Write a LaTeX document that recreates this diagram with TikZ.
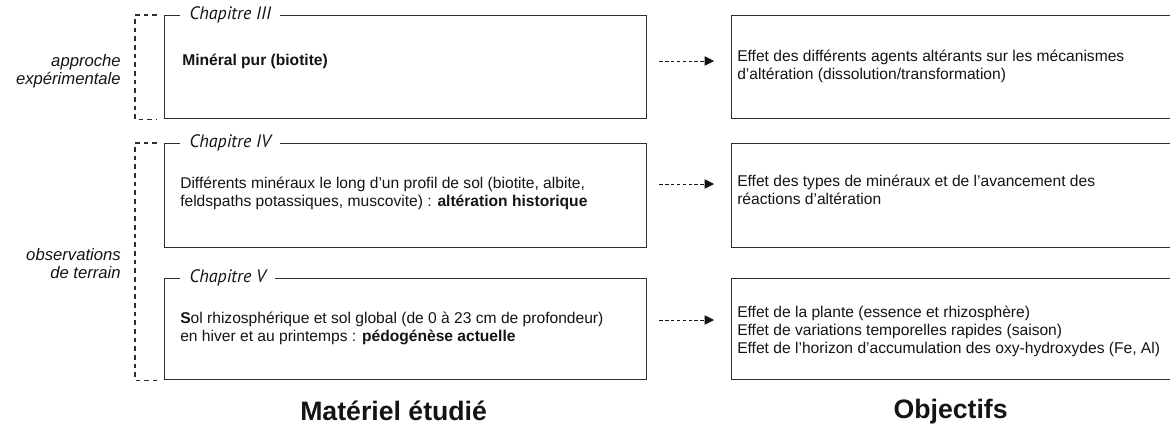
\documentclass[tikz,border=0pt]{standalone}
\usepackage{fontspec}
\setmainfont{Liberation Sans}
\newfontfamily\chapfont{PT Sans}
\usetikzlibrary{arrows.meta,calc,positioning}
\definecolor{dgink}{HTML}{141414}
\definecolor{dgframe}{HTML}{2E2E2E}

\begin{document}
\begin{tikzpicture}[x=0.75pt, y=-0.75pt, font=\fontsize{11.7}{13.5}\selectfont, text=dgink,
    matbox/.style={draw=dgframe, line width=0.95pt, rectangle, inner sep=0pt, anchor=north west, minimum width=361.5pt},
    objbox/.style={draw=dgframe, line width=0.95pt, rectangle, inner sep=0pt, anchor=north west, minimum width=330pt},
    chapter/.style={fill=white, inner xsep=7pt, inner ysep=1pt, anchor=west, font=\chapfont\itshape\fontsize{13.5}{15}\selectfont},
    body/.style={anchor=north west, inner sep=0pt, align=left},
    bracket/.style={draw=dgframe, line width=0.8pt, dash pattern=on 3.5pt off 3pt},
    link/.style={draw=dgink, line width=0.55pt, dash pattern=on 2.6pt off 1.8pt, -{Triangle[length=7pt, width=7pt]}},
    approach/.style={anchor=east, align=right, inner sep=0pt, font=\itshape\fontsize{12.5}{13.5}\selectfont},
    heading/.style={inner sep=0pt, font=\bfseries\fontsize{20}{24}\selectfont},
  ]
  \path[use as bounding box, clip] (0,0) rectangle (1170,430);

  % material studied (left column)
  \node[matbox, minimum height=77.25pt] (mat3) at (164,15) {};
  \node[matbox, minimum height=78pt] (mat4) at (164,143) {};
  \node[matbox, minimum height=75.75pt] (mat5) at (164,278) {};

  % objectives (right column, cut at the page edge)
  \node[objbox, minimum height=77.25pt] (obj3) at (731,15) {};
  \node[objbox, minimum height=78pt] (obj4) at (731,143) {};
  \node[objbox, minimum height=75.75pt] (obj5) at (731,278) {};

  % chapter titles over the top borders
  \foreach \n/\roman in {3/III, 4/IV, 5/V} {
    \node[chapter] (chap\n) at ($(mat\n.north west)+(16,0)$) {Chapitre \roman};
  }

  % box contents
  \node[body] (mat3txt) at ($(mat3.north west)+(18,39)$) {\textbf{Minéral pur (biotite)}};
  \node[body] (mat4txt) at ($(mat4.north west)+(16,34)$)
    {Différents minéraux le long d’un profil de sol (biotite, albite,\\
     feldspaths potassiques, muscovite) : \textbf{altération historique}};
  \node[body] (mat5txt) at ($(mat5.north west)+(16,34)$)
    {\textbf{S}ol rhizosphérique et sol global (de 0 à 23 cm de profondeur)\\
     en hiver et au printemps : \textbf{pédogénèse actuelle}};

  \node[body] (obj3txt) at ($(obj3.north west)+(6,35)$)
    {Effet des différents agents altérants sur les mécanismes\\
     d’altération (dissolution/transformation)};
  \node[body] (obj4txt) at ($(obj4.north west)+(6,32)$)
    {Effet des types de minéraux et de l’avancement des\\
     réactions d’altération};
  \node[body] (obj5txt) at ($(obj5.north west)+(6,28)$)
    {Effet de la plante (essence et rhizosphère)\\
     Effet de variations temporelles rapides (saison)\\
     Effet de l’horizon d’accumulation des oxy-hydroxydes (Fe, Al)};

  % links material -> objectives
  \foreach \n/\dy in {3/46, 4/41, 5/42} {
    \draw[link] ($(mat\n.north east)+(12,\dy)$) -- ($(obj\n.north west)+(-17,\dy)$);
  }

  % approach brackets and labels
  \draw[bracket] ($(mat3.north west)+(-7,0)$) -| ($(mat3.south west)+(-29,0)$) -- ($(mat3.south west)+(-7,0)$);
  \draw[bracket] ($(mat4.north west)+(-7,0)$) -| ($(mat5.south west)+(-29,0)$) -- ($(mat5.south west)+(-7,0)$);
  \node[approach] (expe) at ($(mat3.west)+(-43,4)$) {approche\\expérimentale};
  \coordinate (fieldmid) at ($(mat4.north west)!0.5!(mat5.south west)$);
  \node[approach] (field) at ($(fieldmid)+(-43,2)$) {observations\\de terrain};

  % column headings
  \node[heading] (matlabel) at ($(mat5.south)+(-12,31)$) {Matériel étudié};
  \node[heading] (objlabel) at ($(obj5.south)+(-1,31)$) {Objectifs};
\end{tikzpicture}
\end{document}
